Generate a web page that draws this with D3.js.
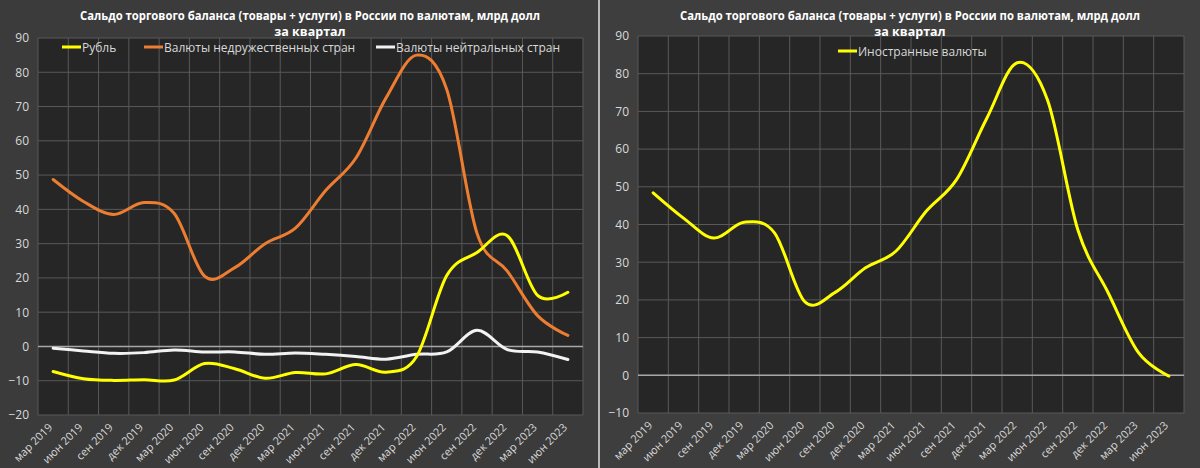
<!DOCTYPE html>
<html><head><meta charset="utf-8">
<script src="https://cdn.jsdelivr.net/npm/d3@7"></script>
<style>
html,body{margin:0;padding:0;background:#3b3b3b;}
svg{display:block;}
text{font-family:"Open Sans","Noto Sans",sans-serif;}
</style></head>
<body>
<svg id="c" width="1200" height="468"></svg>
<script>
const categories = ["мар 2019","июн 2019","сен 2019","дек 2019","мар 2020","июн 2020","сен 2020","дек 2020","мар 2021","июн 2021","сен 2021","дек 2021","мар 2022","июн 2022","сен 2022","дек 2022","мар 2023","июн 2023"];
const rubleValues = [-7.3,-9.4,-9.9,-9.7,-9.8,-5,-6.5,-9.3,-7.6,-8,-5.3,-7.5,-3,20.7,27.4,32.3,14.9,15.8];
const unfriendlyValues = [48.7,42.3,38.5,42,38.8,20.5,23,30,34.5,45.5,55,72.6,85,75,33,22,9,3.2];
const neutralValues = [-0.5,-1.3,-2,-1.8,-1,-1.6,-1.6,-2.3,-1.9,-2.3,-2.9,-3.7,-2.3,-1.6,4.7,-0.9,-1.6,-3.8];
const foreignValues = [48.4,41.7,36.4,40.6,37.8,19.5,22,28.5,32.9,43.5,51.9,68.2,82.9,73,38.6,21.9,6,-0.2];
const leftTicks = [90,80,70,60,50,40,30,20,10,0,-10,-20];
const rightTicks = [90,80,70,60,50,40,30,20,10,0,-10];
const titleLine1 = "Сальдо торгового баланса (товары + услуги) в России по валютам, млрд долл";
const titleLine2 = "за квартал";
const seriesNames = {ruble:"Рубль", unfriendly:"Валюты недружественных стран", neutral:"Валюты нейтральных стран", foreign:"Иностранные валюты"};

const svg = d3.select("#c");
// panels
svg.append("rect").attr("x",0).attr("y",0).attr("width",598).attr("height",468).attr("fill","#3b3b3b");
svg.append("rect").attr("x",600).attr("y",0).attr("width",600).attr("height",468).attr("fill","#3e3e3e");
svg.append("rect").attr("x",598).attr("y",0).attr("width",2).attr("height",468).attr("fill","#b8b8b8");

function chart(opt){
  const g = svg.append("g");
  const x = d3.scaleBand().domain(categories).range([opt.x0,opt.x1]);
  const y = d3.scaleLinear().domain(opt.domain).range([opt.y1,opt.y0]);
  g.append("rect").attr("x",opt.x0).attr("y",opt.y0).attr("width",opt.x1-opt.x0).attr("height",opt.y1-opt.y0).attr("fill","#262626");
  // horizontal grid
  g.selectAll(".hg").data(opt.ticks).enter().append("line")
    .attr("x1",opt.x0).attr("x2",opt.x1).attr("y1",d=>y(d)).attr("y2",d=>y(d))
    .attr("stroke","#595959").attr("stroke-width",1);
  // vertical grid at category boundaries
  const bounds = categories.map(c=>x(c)).concat([opt.x1]);
  g.selectAll(".vg").data(bounds).enter().append("line")
    .attr("x1",d=>d).attr("x2",d=>d).attr("y1",opt.y0).attr("y2",opt.y1)
    .attr("stroke","#595959").attr("stroke-width",1);
  // zero line on top
  g.append("line").attr("x1",opt.x0).attr("x2",opt.x1).attr("y1",y(0)).attr("y2",y(0)).attr("stroke","#a6a6a6").attr("stroke-width",1.6);
  // y axis
  const ya = g.append("g").attr("transform",`translate(${opt.x0-9},0)`)
    .call(d3.axisLeft(y).tickValues(opt.ticks).tickSize(0).tickPadding(0));
  ya.select(".domain").remove();
  ya.selectAll("text").attr("fill","#d9d9d9").attr("font-size",12).attr("font-family","'Open Sans',sans-serif");
  // x axis
  const xa = g.append("g").attr("transform",`translate(0,${opt.y1})`)
    .call(d3.axisBottom(x).tickSize(0).tickPadding(0));
  xa.select(".domain").remove();
  xa.selectAll("text").attr("fill","#d9d9d9").attr("font-size",11).attr("font-family","'Open Sans',sans-serif")
    .attr("text-anchor","end").attr("dy",0).attr("y",0)
    .attr("transform","translate(0,13) rotate(-45)");
  // lines
  const line = d3.line().x((d,i)=>x(categories[i])+x.bandwidth()/2).y(d=>y(d)).curve(d3.curveCatmullRom.alpha(0));
  opt.series.forEach(s=>{
    g.append("path").datum(s.values).attr("d",line).attr("fill","none")
      .attr("stroke",s.color).attr("stroke-width",3).attr("stroke-linecap","round").attr("stroke-linejoin","round");
  });
  // title
  const cx = opt.titleX;
  g.append("text").attr("x",cx).attr("y",20).attr("text-anchor","middle").attr("fill","#ffffff")
    .attr("font-weight","bold").attr("font-size",12.5).attr("textLength",460).attr("lengthAdjust","spacingAndGlyphs").text(titleLine1);
  g.append("text").attr("x",cx).attr("y",36).attr("text-anchor","middle").attr("fill","#ffffff")
    .attr("font-weight","bold").attr("font-size",12.5).text(titleLine2);
  // legend
  opt.legend.forEach(l=>{
    g.append("line").attr("x1",l.x).attr("x2",l.x+19).attr("y1",l.y).attr("y2",l.y).attr("stroke",l.color).attr("stroke-width",3);
    g.append("text").attr("x",l.x+20).attr("y",l.y+4.5).attr("fill","#d9d9d9").attr("font-size",12).text(l.name);
  });
}

chart({x0:38,x1:583,y0:38,y1:415,domain:[-20,90],ticks:leftTicks,titleX:310,
  series:[
    {values:unfriendlyValues,color:"#ed7d31"},
    {values:neutralValues,color:"#f2f2f2"},
    {values:rubleValues,color:"#ffff00"}
  ],
  legend:[
    {x:62,y:47,color:"#ffff00",name:seriesNames.ruble},
    {x:144,y:47,color:"#ed7d31",name:seriesNames.unfriendly},
    {x:376,y:47,color:"#f2f2f2",name:seriesNames.neutral}
  ]});
chart({x0:638,x1:1184,y0:36,y1:413,domain:[-10,90],ticks:rightTicks,titleX:910,
  series:[{values:foreignValues,color:"#ffff00"}],
  legend:[{x:838,y:51,color:"#ffff00",name:seriesNames.foreign}]});
</script>
</body></html>
